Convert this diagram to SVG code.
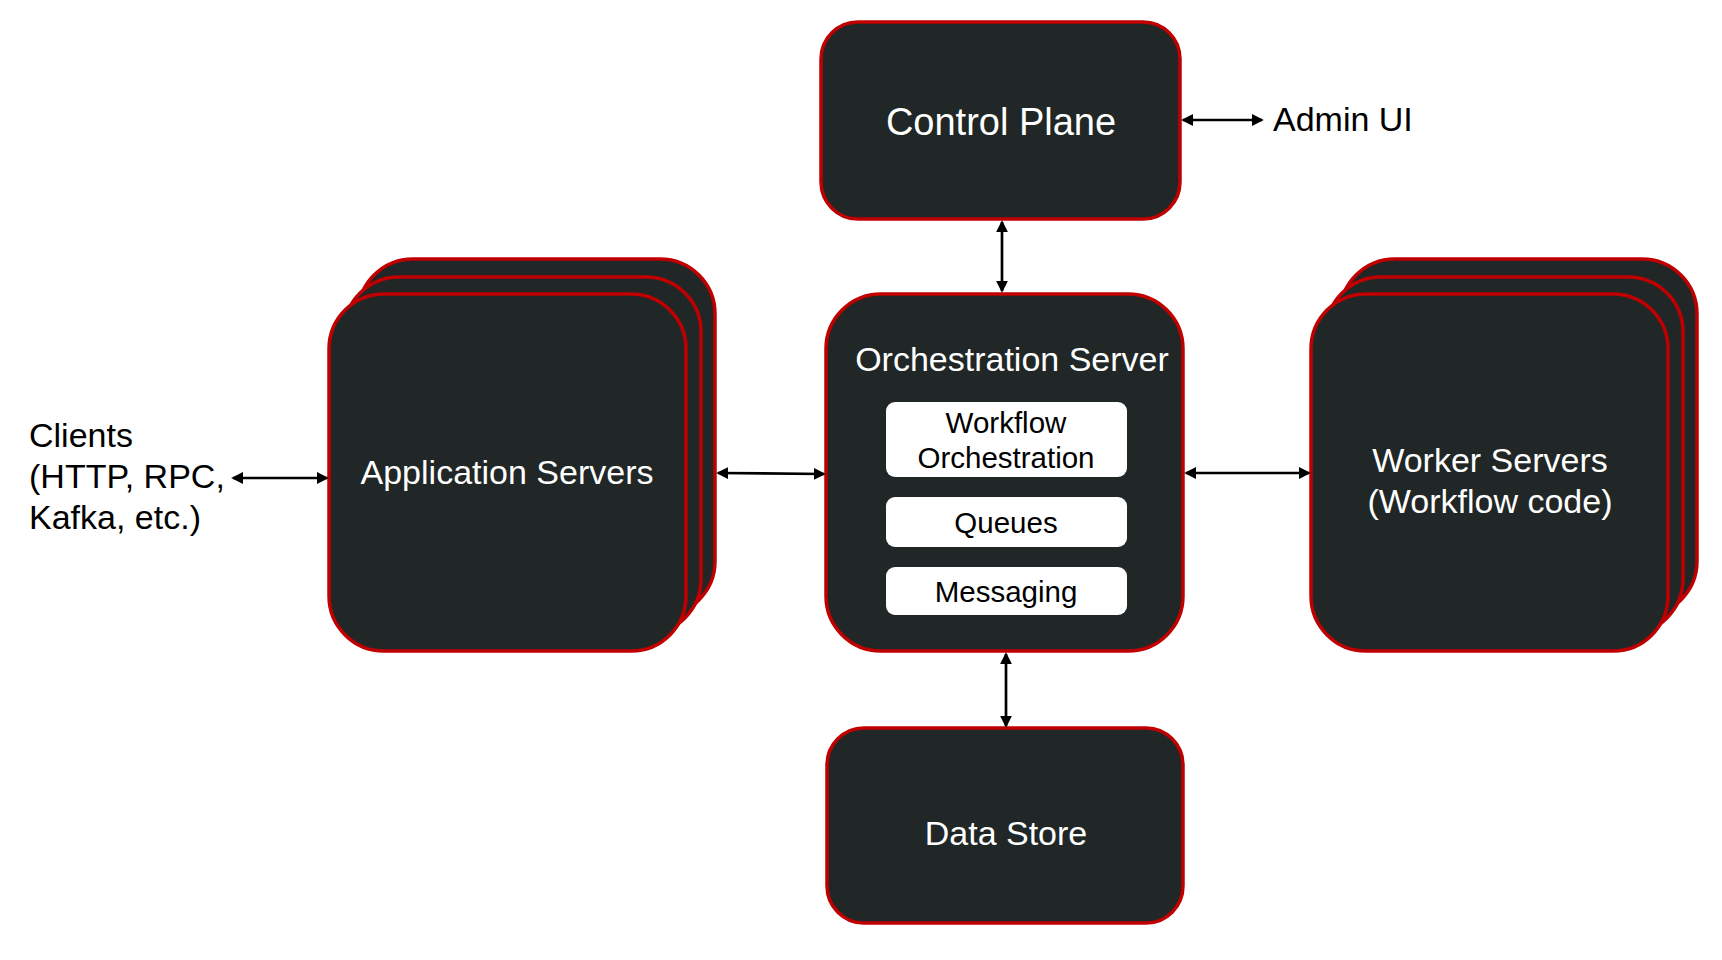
<svg xmlns="http://www.w3.org/2000/svg" width="1722" height="960" viewBox="0 0 1722 960">
<style>
.box{fill:#202726;stroke:#C00000;stroke-width:3.5}
.inner{fill:#ffffff}
.wt{fill:#ffffff;font-family:"Liberation Sans",Arial,sans-serif;text-anchor:middle}
.bt{fill:#000000;font-family:"Liberation Sans",Arial,sans-serif}
.it{fill:#000000;font-family:"Liberation Sans",Arial,sans-serif;text-anchor:middle;font-size:29.5px}
.conn{stroke:#000000;stroke-width:2.7;fill:none;marker-start:url(#ah);marker-end:url(#ah)}
</style>
<defs>
<marker id="ah" viewBox="0 0 10 10" refX="8.5" refY="5" markerWidth="12" markerHeight="12" markerUnits="userSpaceOnUse" orient="auto-start-reverse">
<path d="M0,0 L10,5 L0,10 z" fill="#000000"/>
</marker>
</defs>
<rect width="1722" height="960" fill="#ffffff"/>
<g id="control-plane">
<rect class="box" x="821" y="22" width="359" height="197" rx="37" ry="37"/>
<text class="wt" x="1001" y="135" font-size="38">Control Plane</text>
</g>
<g id="admin-ui">
<text class="bt" x="1273" y="131" font-size="34">Admin UI</text>
</g>
<g id="clients">
<text class="bt" x="29" y="447" font-size="34">Clients</text>
<text class="bt" x="29" y="488" font-size="34">(HTTP, RPC,</text>
<text class="bt" x="29" y="529" font-size="34">Kafka, etc.)</text>
</g>
<g id="application-servers">
<rect class="box" x="358" y="259" width="357" height="357" rx="55" ry="55"/>
<rect class="box" x="344" y="277" width="357" height="357" rx="55" ry="55"/>
<rect class="box" x="329" y="294" width="357" height="357" rx="55" ry="55"/>
<text class="wt" x="507" y="484" font-size="34">Application Servers</text>
</g>
<g id="orchestration-server">
<rect class="box" x="826" y="294" width="357" height="357" rx="55" ry="55"/>
<text class="wt" x="1012" y="371" font-size="34">Orchestration Server</text>
<g id="workflow-orchestration">
<rect class="inner" x="886" y="402" width="241" height="75" rx="9" ry="9"/>
<text class="it" x="1006" y="433">Workflow</text>
<text class="it" x="1006" y="468">Orchestration</text>
</g>
<g id="queues">
<rect class="inner" x="886" y="497" width="241" height="50" rx="9" ry="9"/>
<text class="it" x="1006" y="533">Queues</text>
</g>
<g id="messaging">
<rect class="inner" x="886" y="567" width="241" height="48" rx="9" ry="9"/>
<text class="it" x="1006" y="602">Messaging</text>
</g>
</g>
<g id="worker-servers">
<rect class="box" x="1340" y="259" width="357" height="357" rx="55" ry="55"/>
<rect class="box" x="1326" y="277" width="357" height="357" rx="55" ry="55"/>
<rect class="box" x="1311" y="294" width="357" height="357" rx="55" ry="55"/>
<text class="wt" x="1490" y="472" font-size="34">Worker Servers</text>
<text class="wt" x="1490" y="513" font-size="34">(Workflow code)</text>
</g>
<g id="data-store">
<rect class="box" x="827" y="728" width="356" height="195" rx="37" ry="37"/>
<text class="wt" x="1006" y="845" font-size="34">Data Store</text>
</g>
<g id="connectors">
<line class="conn" x1="1183" y1="120" x2="1262" y2="120"/>
<line class="conn" x1="1002" y1="222" x2="1002" y2="291"/>
<line class="conn" x1="233" y1="478" x2="327" y2="478"/>
<line class="conn" x1="718" y1="473" x2="824" y2="474"/>
<line class="conn" x1="1186" y1="473" x2="1309" y2="473"/>
<line class="conn" x1="1006" y1="654" x2="1006" y2="726"/>
</g>
</svg>
